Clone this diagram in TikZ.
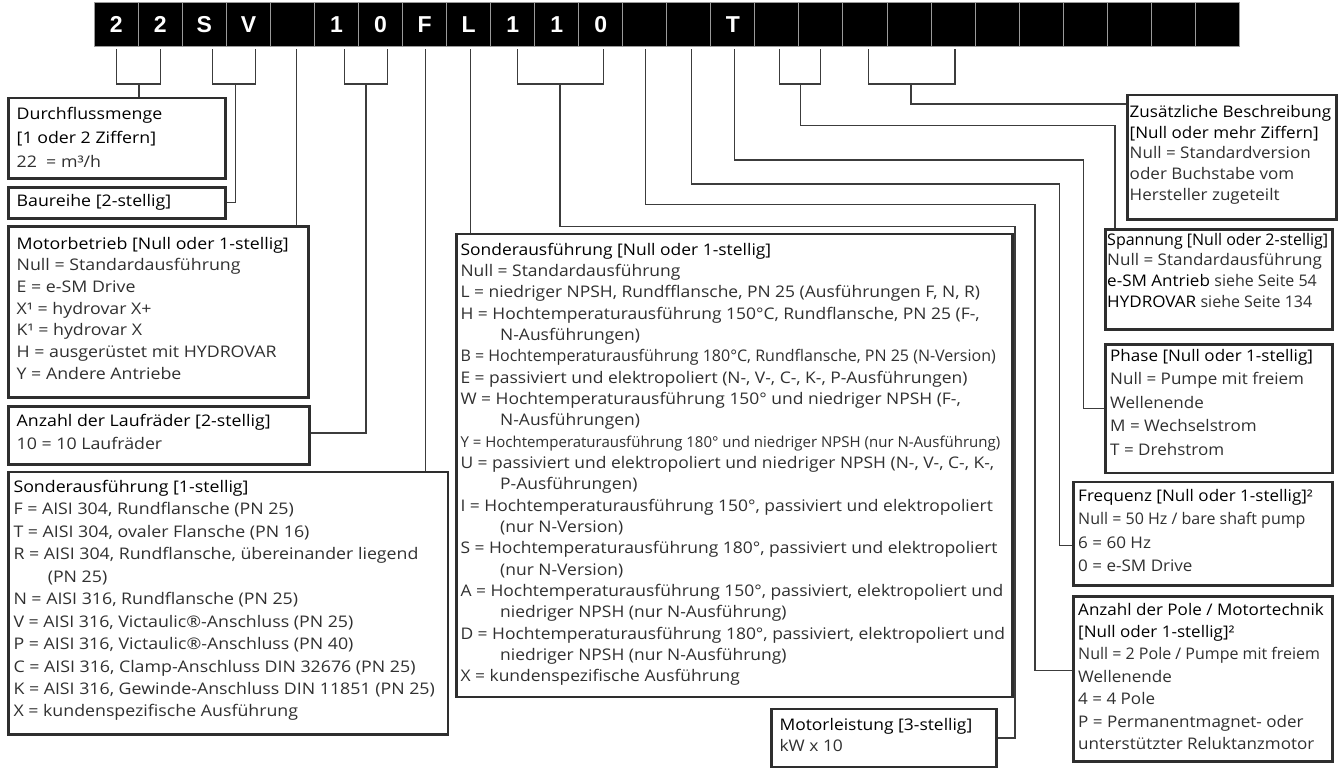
\documentclass[tikz,border=0pt]{standalone}
\usepackage{fontspec}
\setmainfont{Open Sans}[FakeStretch=1.09]
\newfontfamily\leftfont{Open Sans}[FakeStretch=1.11]
\newfontfamily\rightfont{Open Sans}[FakeStretch=1.065]
\newfontfamily\barfont{Liberation Sans}
\newfontfamily\condfont{Open Sans}
\definecolor{boxgray}{HTML}{2E2E2E}
\definecolor{linegray}{HTML}{3C3C3C}
\definecolor{txt}{HTML}{303030}
\definecolor{cellsep}{HTML}{9A9A9A}
\newcommand{\ttl}[1]{\textcolor{black}{#1}}
\begin{document}
\begin{tikzpicture}[x=1pt,y=-1pt,
  cell/.style={fill=black,draw=cellsep,line width=1pt,minimum width=44.04pt,minimum height=43.8pt,inner sep=0pt,text=white,font=\barfont\bfseries\fontsize{23}{23}\selectfont},
  panel/.style={draw=boxgray,line width=2.6pt,anchor=north west,inner sep=0pt,fill=white},
  ptext/.style={anchor=north west,inner sep=0pt,align=left,text=txt,font=\fontsize{16}{#1}\selectfont},
  ltext/.style={ptext=#1,font=\leftfont\fontsize{16}{#1}\selectfont},
  rtext/.style={ptext=#1,font=\rightfont\fontsize{16}{#1}\selectfont},
  conn/.style={draw=linegray,line width=1.2pt},
]
\useasboundingbox[fill=white] (0,0) rectangle (1340,771);

% code bar
\foreach \i/\t in {1/2,2/2,3/S,4/V,5/{},6/1,7/0,8/F,9/L,10/1,11/1,12/0,13/{},14/{},15/T,16/{},17/{},18/{},19/{},20/{},21/{},22/{},23/{},24/{},25/{},26/{}}
  \node[cell] (c\i) at ({94.3+44.04*(\i-0.5)},24.15) {\t};

% panels
\node[panel,minimum width=216.7pt,minimum height=80.3pt] (pDurch) at (7.3,96.7) {};
\node[panel,minimum width=216.7pt,minimum height=31pt] (pBau) at (7.3,186) {};
\node[panel,minimum width=300pt,minimum height=171pt] (pMotor) at (7.3,225) {};
\node[panel,minimum width=300.7pt,minimum height=58.3pt] (pLauf) at (7.3,405) {};
\node[panel,minimum width=439.4pt,minimum height=262.3pt] (pSon) at (7.3,470.7) {};
\node[panel,minimum width=556pt,minimum height=462.8pt] (pMid) at (455,232.7) {};
\node[panel,minimum width=225pt,minimum height=58pt] (pMotl) at (770,707.7) {};
\node[panel,minimum width=209pt,minimum height=124.8pt] (pZus) at (1126,93.5) {};
\node[panel,minimum width=226.7pt,minimum height=100pt] (pSpan) at (1104.3,228.3) {};
\node[panel,minimum width=226.7pt,minimum height=128.4pt] (pPhase) at (1104.3,343.3) {};
\node[panel,minimum width=258.7pt,minimum height=103.3pt] (pFreq) at (1072.3,480.7) {};
\node[panel,minimum width=258.7pt,minimum height=165pt] (pPole) at (1072.3,595) {};

% junction coordinates
\coordinate (j1) at (139,84);
\coordinate (j2) at (235.7,84);
\coordinate (j3) at (366,84);
\coordinate (j4) at (560,84);
\coordinate (j5) at (800.7,84);
\coordinate (j6) at (911,84);
\coordinate (m1) at (1015,226.7);
\coordinate (m2) at (1035,204.3);
\coordinate (m3) at (1059.3,184);
\coordinate (m4) at (1083.3,160);
\coordinate (m5) at (1115,125.7);

% connectors
\draw[conn] ([yshift=-2.7pt]c1.south) |- (j1) -| ([yshift=-2.7pt]c2.south);
\draw[conn] (j1) -- (j1 |- pDurch.north);
\draw[conn] ([xshift=7.7pt,yshift=-2.7pt]c3.south) |- (j2) -| ([xshift=7pt,yshift=-2.7pt]c4.south);
\draw[conn] (j2) |- (pBau.east);
\draw[conn] ([xshift=4pt,yshift=-2.7pt]c5.south) coordinate (k5) -- (k5 |- pMotor.north);
\draw[conn] ([xshift=7.6pt,yshift=-2.7pt]c6.south) |- (j3) -| ([xshift=7pt,yshift=-2.7pt]c7.south);
\draw[conn] (j3) |- ([yshift=2.4pt]pLauf.east);
\draw[conn] ([xshift=1pt,yshift=-2.7pt]c8.south) coordinate (k8) -- (k8 |- pSon.north);
\draw[conn] ([xshift=1.8pt,yshift=-2.7pt]c9.south) coordinate (k9) -- (k9 |- pMid.north);
\draw[conn] ([xshift=4.6pt,yshift=-2.7pt]c10.south) |- (j4) -| ([xshift=2.6pt,yshift=-2.7pt]c12.south);
\draw[conn] (j4) |- (m1) |- (pMotl.east);
\draw[conn] ([xshift=1pt,yshift=-2.7pt]c13.south) |- (m2) |- ([yshift=8pt]pPole.west);
\draw[conn] ([xshift=3pt,yshift=-2.7pt]c14.south) |- (m3) |- ([yshift=-12pt]pFreq.west);
\draw[conn] ([xshift=1.6pt,yshift=-2.7pt]c15.south) |- (m4) |- (pPhase.west);
\draw[conn] ([xshift=2.6pt,yshift=-2.7pt]c16.south) |- (j5) -| ([xshift=-0.7pt,yshift=-2.7pt]c17.south);
\draw[conn] (j5) |- (m5) -- (m5 |- pSpan.north);
\draw[conn] ([xshift=3.7pt,yshift=-2.7pt]c18.south) |- (j6) -| ([xshift=2pt,yshift=-2.7pt]c20.south);
\draw[conn] (j6) |- ([yshift=-10.5pt]pZus.north west);

% texts
\node[ltext=23.7] (tDurch) at (16.5,102.9) {\strut\ttl{Durchflussmenge}\\ \ttl{[1 oder 2 Ziffern]}\\ 22\ \ = m³/h};
\node[ltext=22] (tBau) at (16.5,191.3) {\strut\ttl{Baureihe [2-stellig]}};
\node[ltext=21.7] (tMotor) at (16.5,233.8) {\strut\ttl{Motorbetrieb [Null oder 1-stellig]}\\
Null = Standardausführung\\
E = e-SM Drive\\
X¹ = hydrovar X+\\
K¹ = hydrovar X\\
H = ausgerüstet mit HYDROVAR\\
Y = Andere Antriebe};
\node[ltext=22.3] (tLauf) at (16.5,411.1) {\strut\ttl{Anzahl der Laufräder [2-stellig]}\\
10 = 10 Laufräder};
\node[ltext=22.44] (tSon) at (13.3,476.6) {\strut\ttl{Sonderausführung [1-stellig]}\\
F = AISI 304, Rundflansche (PN 25)\\
T = AISI 304, ovaler Flansche (PN 16)\\
R = AISI 304, Rundflansche, übereinander liegend\\
\hspace*{34.3pt}(PN 25)\\
N = AISI 316, Rundflansche (PN 25)\\
V = AISI 316, Victaulic®-Anschluss (PN 25)\\
P = AISI 316, Victaulic®-Anschluss (PN 40)\\
C = AISI 316, Clamp-Anschluss DIN 32676 (PN 25)\\
K = AISI 316, Gewinde-Anschluss DIN 11851 (PN 25)\\
X = kundenspezifische Ausführung};
\node[ptext=21.33] (tMid) at (460.3,240.1) {\strut\ttl{Sonderausführung [Null oder 1-stellig]}\\
Null = Standardausführung\\
L = niedriger NPSH, Rundfflansche, PN 25 (Ausführungen F, N, R)\\
H = Hochtemperaturausführung 150°C, Rundflansche, PN 25 (F-,\\
\hspace*{39.7pt}N-Ausführungen)\\
{\condfont B = Hochtemperaturausführung 180°C, Rundflansche, PN 25 (N-Version)}\\
E = passiviert und elektropoliert (N-, V-, C-, K-, P-Ausführungen)\\
W = Hochtemperaturausführung 150° und niedriger NPSH (F-,\\
\hspace*{39.7pt}N-Ausführungen)\\
{\condfont\fontsize{15}{21.33}\selectfont Y = Hochtemperaturausführung 180° und niedriger NPSH (nur N-Ausführung)}\\
U = passiviert und elektropoliert und niedriger NPSH (N-, V-, C-, K-,\\
\hspace*{39.7pt}P-Ausführungen)\\
I = Hochtemperaturausführung 150°, passiviert und elektropoliert\\
\hspace*{39.7pt}(nur N-Version)\\
S = Hochtemperaturausführung 180°, passiviert und elektropoliert\\
\hspace*{39.7pt}(nur N-Version)\\
A = Hochtemperaturausführung 150°, passiviert, elektropoliert und\\
\hspace*{39.7pt}niedriger NPSH (nur N-Ausführung)\\
D = Hochtemperaturausführung 180°, passiviert, elektropoliert und\\
\hspace*{39.7pt}niedriger NPSH (nur N-Ausführung)\\
X = kundenspezifische Ausführung};
\node[ptext=21] (tMotl) at (779.3,715.3) {\strut\ttl{Motorleistung [3-stellig]}\\
kW x 10};
\node[rtext=20.7] (tZus) at (1129.5,102.8) {\strut\ttl{Zusätzliche Beschreibung}\\
\ttl{[Null oder mehr Ziffern]}\\
Null = Standardversion\\
oder Buchstabe vom\\
Hersteller zugeteilt};
\node[rtext=20.6] (tSpan) at (1107,230.6) {\strut\ttl{\condfont Spannung [Null oder 2-stellig]}\\
Null = Standardausführung\\
\ttl{e-SM Antrieb} {\condfont siehe Seite 54}\\
\ttl{HYDROVAR} {\condfont siehe Seite 134}};
\node[rtext=23.5] (tPhase) at (1110,344.5) {\strut\ttl{Phase [Null oder 1-stellig]}\\
Null = Pumpe mit freiem\\
Wellenende\\
M = Wechselstrom\\
T = Drehstrom};
\node[rtext=23.1] (tFreq) at (1078,485.5) {\strut\ttl{Frequenz [Null oder 1-stellig]²}\\
{\condfont Null = 50 Hz / bare shaft pump}\\
6 = 60 Hz\\
0 = e-SM Drive};
\node[rtext=22.4] (tPole) at (1078,599.3) {\strut\ttl{Anzahl der Pole / Motortechnik}\\
\ttl{[Null oder 1-stellig]²}\\
{\condfont Null = 2 Pole / Pumpe mit freiem}\\
Wellenende\\
4 = 4 Pole\\
P = Permanentmagnet- oder\\
unterstützter Reluktanzmotor};
\end{tikzpicture}
\end{document}
